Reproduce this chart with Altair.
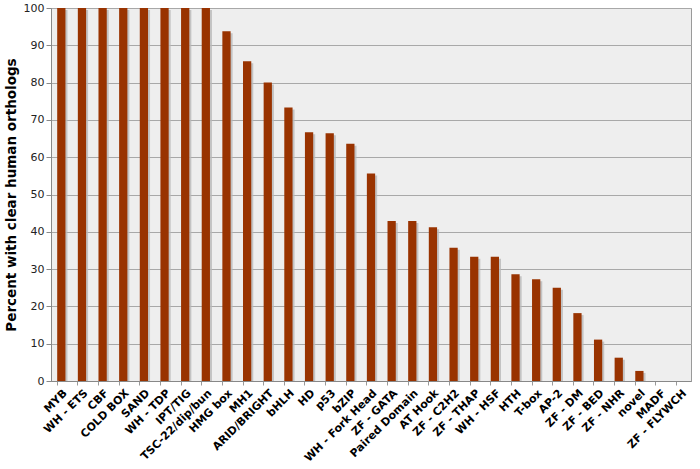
import altair as alt
import pandas as pd

categories = ["MYB", "WH - ETS", "CBF", "COLD BOX", "SAND", "WH - TDP", "IPT/TIG",
              "TSC-22/dip/bun", "HMG box", "MH1", "ARID/BRIGHT", "bHLH", "HD", "p53",
              "bZIP", "WH - Fork Head", "ZF - GATA", "Paired Domain", "AT Hook",
              "ZF - C2H2", "ZF - THAP", "WH - HSF", "HTH", "T-box", "AP-2", "ZF - DM",
              "ZF - BED", "ZF - NHR", "novel", "MADF", "ZF - FLYWCH"]
values = [100, 100, 100, 100, 100, 100, 100, 100, 93.75, 85.7, 80, 73.3, 66.7, 66.4,
          63.6, 55.6, 42.9, 42.9, 41.2, 35.7, 33.3, 33.3, 28.6, 27.3, 25, 18.2,
          11.1, 6.25, 2.7, 0, 0]

df = pd.DataFrame({"cat": categories, "val": values})

FONT = "DejaVu Sans"

x = alt.X("cat:N", sort=categories, title=None,
          scale=alt.Scale(paddingInner=0.6, paddingOuter=0.3),
          axis=alt.Axis(labelAngle=-45, labelFont=FONT, labelFontWeight="bold",
                        labelFontSize=11, labelColor="#000000", bandPosition=0,
                        tickColor="#999999", tickSize=4, domainColor="#888888",
                        labelPadding=2, grid=False))
y = alt.Y("val:Q", title="Percent with clear human orthologs",
          scale=alt.Scale(domain=[0, 100], nice=False),
          axis=alt.Axis(values=list(range(0, 101, 10)), labelFont=FONT,
                        labelFontSize=11, labelColor="#222222",
                        titleFont=FONT, titleFontSize=13.5, titleFontWeight="bold",
                        titleColor="#000000", titlePadding=5,
                        gridColor="#a8a8a8", gridWidth=1, domainColor="#888888",
                        tickColor="#888888", tickSize=5))

base = alt.Chart(df)
shadow = base.mark_bar(color="#b8b8b8", xOffset=2, yOffset=2, clip=True, opacity=0.8).encode(x=x, y=y)
bars = base.mark_bar(color="#993300").encode(x=x, y=y)

chart = alt.layer(shadow, bars).properties(
    width=640, height=373,
    padding={"left": 51, "top": 8, "right": 9, "bottom": 88},
    autosize=alt.AutoSizeParams(type="none"),
    background="#ffffff",
).configure_view(fill="#eeeeee", stroke="#9a9a9a", strokeWidth=1)

chart.save("out.html", embed_options={"renderer": "svg", "actions": False})
